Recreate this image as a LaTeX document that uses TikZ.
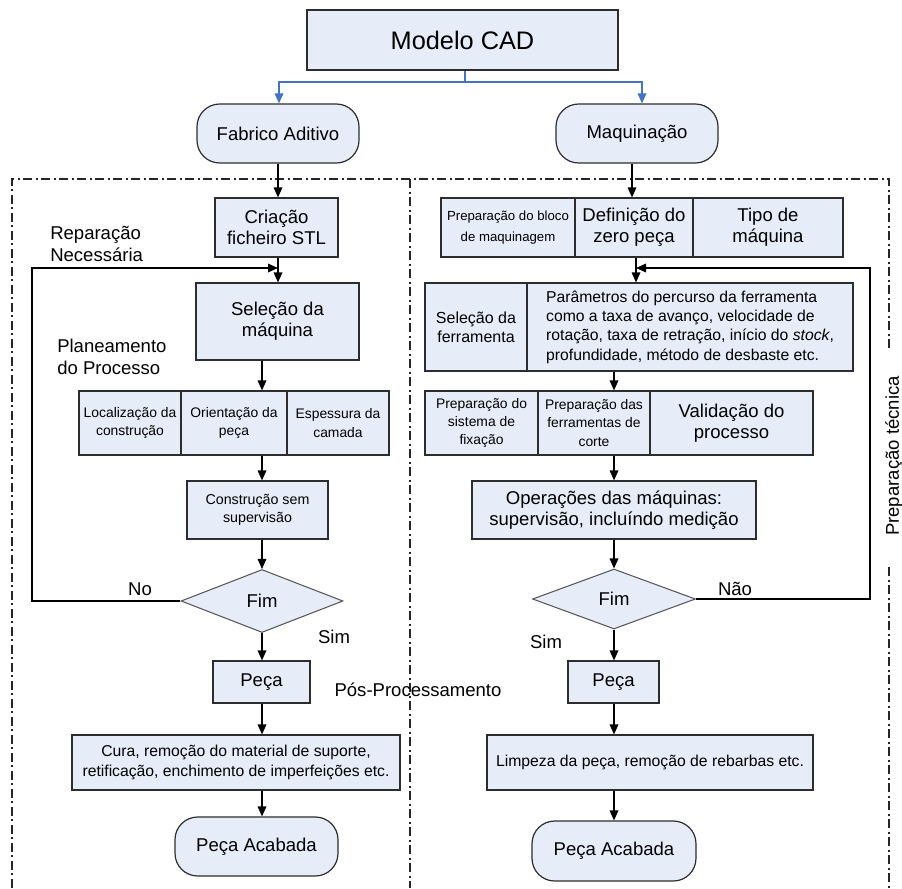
\documentclass[tikz,border=0pt]{standalone}
\usepackage{fontspec}
\setmainfont{Liberation Sans}
\usetikzlibrary{shapes.geometric,arrows.meta}
\definecolor{boxfill}{RGB}{231,237,248}
\definecolor{boxdraw}{RGB}{45,45,45}
\definecolor{conblue}{RGB}{68,114,196}
\newcommand{\fL}{\fontsize{13.9}{16}\selectfont}
\newcommand{\fM}{\fontsize{11.8}{14.5}\selectfont}
\newcommand{\fS}{\fontsize{10.4}{13.6}\selectfont}
\newcommand{\fXL}{\fontsize{19}{22}\selectfont}
\newcommand{\bx}[7][]{\node[box,minimum width={(#5-#3)*0.75pt},minimum height={(#6-#4)*0.75pt},#1] (#2) at ({(#3+#5)/2},{(#4+#6)/2}) {#7};}
\begin{document}
\begin{tikzpicture}[x=0.75pt,y=-0.75pt,
  box/.style={draw=boxdraw,fill=boxfill,line width=0.9pt,inner sep=0pt,align=center,font=\fL},
  term/.style={rounded corners=17pt},
  dec/.style={diamond,draw=black!65,fill=boxfill,line width=0.8pt,inner sep=0pt,font=\fL},
  arr/.style={-{Triangle[length=7.5pt,width=6.5pt]},line width=0.9pt},
  lbl/.style={font=\fL,inner sep=0pt,align=left},
  border/.style={draw=black!85,line width=0.9pt,dash pattern=on 7pt off 2.5pt on 1.5pt off 2.5pt}]
\useasboundingbox (0,0) rectangle (902,888);
% borders
\draw[border] (12,888) -- (12,179) -- (889,179) -- (889,350);
\draw[border] (889,567) -- (889,888);
\draw[border] (410,179) -- (410,888);
% top
\bx[font=\fXL]{cad}{307}{10}{618}{70}{Modelo CAD}
\bx[term]{fab}{197}{104}{359}{163}{Fabrico Aditivo}
\bx[term]{maq}{556}{104}{718}{163}{Maquinação}
% left column
\bx{stl}{215}{198}{338}{257}{Criação\\ficheiro STL}
\bx{sel}{196}{283}{359}{360}{Seleção da\\máquina}
\bx[font=\fS]{loc}{79}{391}{181}{455}{Localização da\\construção}
\bx[font=\fS]{ori}{181}{391}{287}{455}{Orientação da\\peça}
\bx[font=\fS]{esp}{287}{391}{389}{455}{Espessura da\\camada}
\bx[font=\fontsize{10.7}{13.6}\selectfont]{con}{187}{481}{328}{539}{Construção sem\\supervisão}
\node[dec,minimum width={162*0.75pt},minimum height={63*0.75pt}] (fimL) at (262,601) {Fim};
\bx{pecL}{213}{661}{310}{703}{Peça}
\bx[font=\fM]{cura}{72}{735}{400}{790}{Cura, remoção do material de suporte,\\retificação, enchimento de imperfeições etc.}
\bx[term]{acL}{175}{817}{338}{876}{Peça Acabada}
% right column
\bx[font=\fontsize{9.9}{15.5}\selectfont]{blo}{441}{198}{575}{257}{Preparação do bloco\\de maquinagem}
\bx{zer}{575}{198}{693}{257}{Definição do\\zero peça}
\bx{tip}{693}{198}{843}{257}{Tipo de\\máquina}
\bx[font=\fontsize{12}{14.5}\selectfont]{fer}{425}{283}{527}{371}{Seleção da\\ferramenta}
\bx[font=\fM,align=left]{par}{527}{283}{853}{371}{Parâmetros do percurso da ferramenta\\como a taxa de avanço, velocidade de\\rotação, taxa de retração, início do \textit{stock},\\profundidade, método de desbaste etc.}
\bx[font=\fS]{fix}{425}{391}{538}{455}{Preparação do\\sistema de\\fixação}
\bx[font=\fS]{cor}{538}{391}{650}{455}{Preparação das\\ferramentas de\\corte}
\bx{val}{650}{391}{813}{455}{Validação do\\processo}
\bx{ope}{472}{481}{756}{539}{Operações das máquinas:\\supervisão, incluíndo medição}
\node[dec,minimum width={163*0.75pt},minimum height={60*0.75pt}] (fimR) at (614,599) {Fim};
\bx{pecR}{568}{661}{659}{703}{Peça}
\bx[font=\fM]{lim}{487}{735}{813}{790}{Limpeza da peça, remoção de rebarbas etc.}
\bx[term]{acR}{532}{821}{696}{881}{Peça Acabada}
% labels
\node[lbl,anchor=west] (rep) at (50,244) {Reparação\\Necessária};
\node[lbl,anchor=west] (pla) at (57,357) {Planeamento\\do Processo};
\node[lbl] (no) at (140,589) {No};
\node[lbl] (simL) at (334,637) {Sim};
\node[lbl] (pos) at (418,690) {Pós-Processamento};
\node[lbl] (nao) at (735,589) {Não};
\node[lbl] (simR) at (546,642) {Sim};
\node[lbl,rotate=90] (prep) at (894,456) {Preparação técnica};
% helper coordinates
\coordinate (xl) at (262,0);
\coordinate (xr) at (614,0);
\coordinate (xa) at (278,0);
\coordinate (xb) at (632,0);
\coordinate (xc) at (636,0);
\coordinate (bj) at (465,82);
\coordinate (fa) at (279,82);
\coordinate (ma) at (642,82);
\coordinate (lpA) at (32,601);
\coordinate (lpB) at (32,268);
\coordinate (lpC) at (278,268);
\coordinate (rpA) at (870,599);
\coordinate (rpB) at (870,268);
\coordinate (rpC) at (636,268);
% blue connectors
\draw[conblue,line width=0.9pt] (cad.south -| bj) -- (bj);
\draw[arr,conblue] (bj) -- (fa) -- (fab.north -| fa);
\draw[arr,conblue] (bj) -- (ma) -- (maq.north -| ma);
% left arrows
\draw[arr] (fab.south -| xa) -- (stl.north -| xa);
\draw[arr] (stl.south -| xa) -- (sel.north -| xa);
\draw[arr] (sel.south -| xl) -- (ori.north -| xl);
\draw[arr] (ori.south -| xl) -- (con.north -| xl);
\draw[arr] (con.south -| xl) -- (fimL.north);
\draw[arr] (fimL.south) -- (pecL.north -| xl);
\draw[arr] (pecL.south -| xl) -- (cura.north -| xl);
\draw[arr] (cura.south -| xl) -- (acL.north -| xl);
\draw[arr] (fimL.west) -- (lpA) -- (lpB) -- (lpC);
% right arrows
\draw[arr] (maq.south -| xb) -- (zer.north -| xb);
\draw[arr] (zer.south -| xc) -- (par.north -| xc);
\draw[arr] (par.south -| xr) -- (cor.north -| xr);
\draw[arr] (cor.south -| xr) -- (ope.north -| xr);
\draw[arr] (ope.south -| xr) -- (fimR.north);
\draw[arr] (fimR.south) -- (pecR.north -| xr);
\draw[arr] (pecR.south -| xr) -- (lim.north -| xr);
\draw[arr] (lim.south -| xr) -- (acR.north -| xr);
\draw[arr] (fimR.east) -- (rpA) -- (rpB) -- (rpC);
\end{tikzpicture}
\end{document}
